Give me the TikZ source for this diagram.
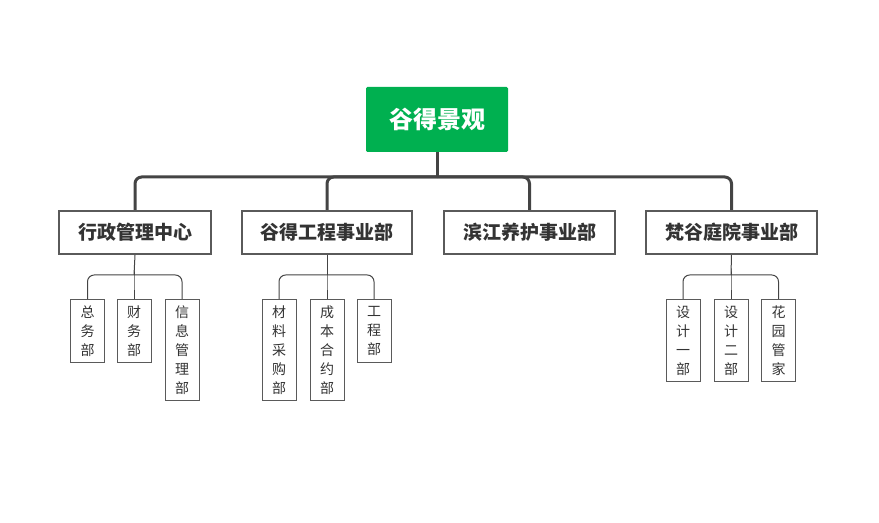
\documentclass[tikz,border=0pt]{standalone}
\usepackage{xcolor}
\usepackage{fontspec}
\usepackage{tikz}
\usetikzlibrary{calc}
\newfontfamily\cjk{Noto Sans CJK SC}
\definecolor{rootgreen}{HTML}{00B050}
\definecolor{linegray}{HTML}{444444}
\definecolor{boxgray}{HTML}{5A5A5A}
\definecolor{txtgray}{HTML}{333333}
\tikzset{
    rootbox/.style={fill=rootgreen,text=white,rounded corners=1pt,minimum width=106.5pt,minimum height=48.75pt,font=\cjk\bfseries\fontsize{18pt}{20pt}\selectfont},
    unitbox/.style={draw=boxgray,line width=1.5pt,fill=white,text=txtgray,inner xsep=14.2pt,minimum height=32.25pt,font=\cjk\bfseries\fontsize{14.25pt}{16pt}\selectfont},
    deptbox/.style={draw=boxgray,line width=0.75pt,fill=white,text=txtgray,anchor=north,align=center,minimum width=25.5pt,inner sep=0pt,font=\cjk\fontsize{10.5pt}{14.25pt}\selectfont},
    trunk/.style={draw=linegray,line width=2.25pt,rounded corners=5pt},
    twig/.style={draw=linegray,line width=0.75pt,rounded corners=5pt}
}

\begin{document}
\begin{tikzpicture}[x=0.75pt,y=-0.75pt]
    \useasboundingbox (0,0) rectangle (879,523);
    % top
    \node[rootbox] (root) at (437,119.5) {谷得景观};
    \coordinate (hub) at (437,177);
    % second level
    \node[unitbox] (admin) at (135,232.5) {行政管理中心};
    \node[unitbox] (build) at (327,232.5) {谷得工程事业部};
    \node[unitbox] (care)  at (529.5,232.5) {滨江养护事业部};
    \node[unitbox] (yard)  at (731.5,232.5) {梵谷庭院事业部};
    \draw[trunk] (root.south) -- (hub);
    \foreach \u in {admin,build,care,yard}
        \draw[trunk] (hub) -| (\u.north);
    % third level
    \node[deptbox,minimum height=47.25pt] (gen)  at (87.5,299) {总\\务\\部};
    \node[deptbox,minimum height=47.25pt] (fin)  at (134,299)  {财\\务\\部};
    \node[deptbox,minimum height=75.75pt] (info) at (182,299)  {信\\息\\管\\理\\部};
    \node[deptbox,minimum height=75.75pt] (buy)  at (279,299)  {材\\料\\采\\购\\部};
    \node[deptbox,minimum height=75.75pt] (cost) at (327,299)  {成\\本\\合\\约\\部};
    \node[deptbox,minimum height=47.25pt] (eng)  at (374,299)  {工\\程\\部};
    \node[deptbox,minimum height=61.5pt]  (des1) at (683,299)  {设\\计\\一\\部};
    \node[deptbox,minimum height=61.5pt]  (des2) at (731,299)  {设\\计\\二\\部};
    \node[deptbox,minimum height=61.5pt]  (keep) at (778.5,299) {花\\园\\管\\家};
    \coordinate (hubA) at (134,275);
    \coordinate (hubB) at (327,275);
    \coordinate (hubC) at (731,275);
    \draw[twig] (admin.south) -- (hubA);
    \draw[twig] (build.south) -- (hubB);
    \draw[twig] (yard.south) -- (hubC);
    \foreach \d in {gen,fin,info}
        \draw[twig] (hubA) -| (\d.north);
    \foreach \d in {buy,cost,eng}
        \draw[twig] (hubB) -| (\d.north);
    \foreach \d in {des1,des2,keep}
        \draw[twig] (hubC) -| (\d.north);
\end{tikzpicture}
\end{document}
